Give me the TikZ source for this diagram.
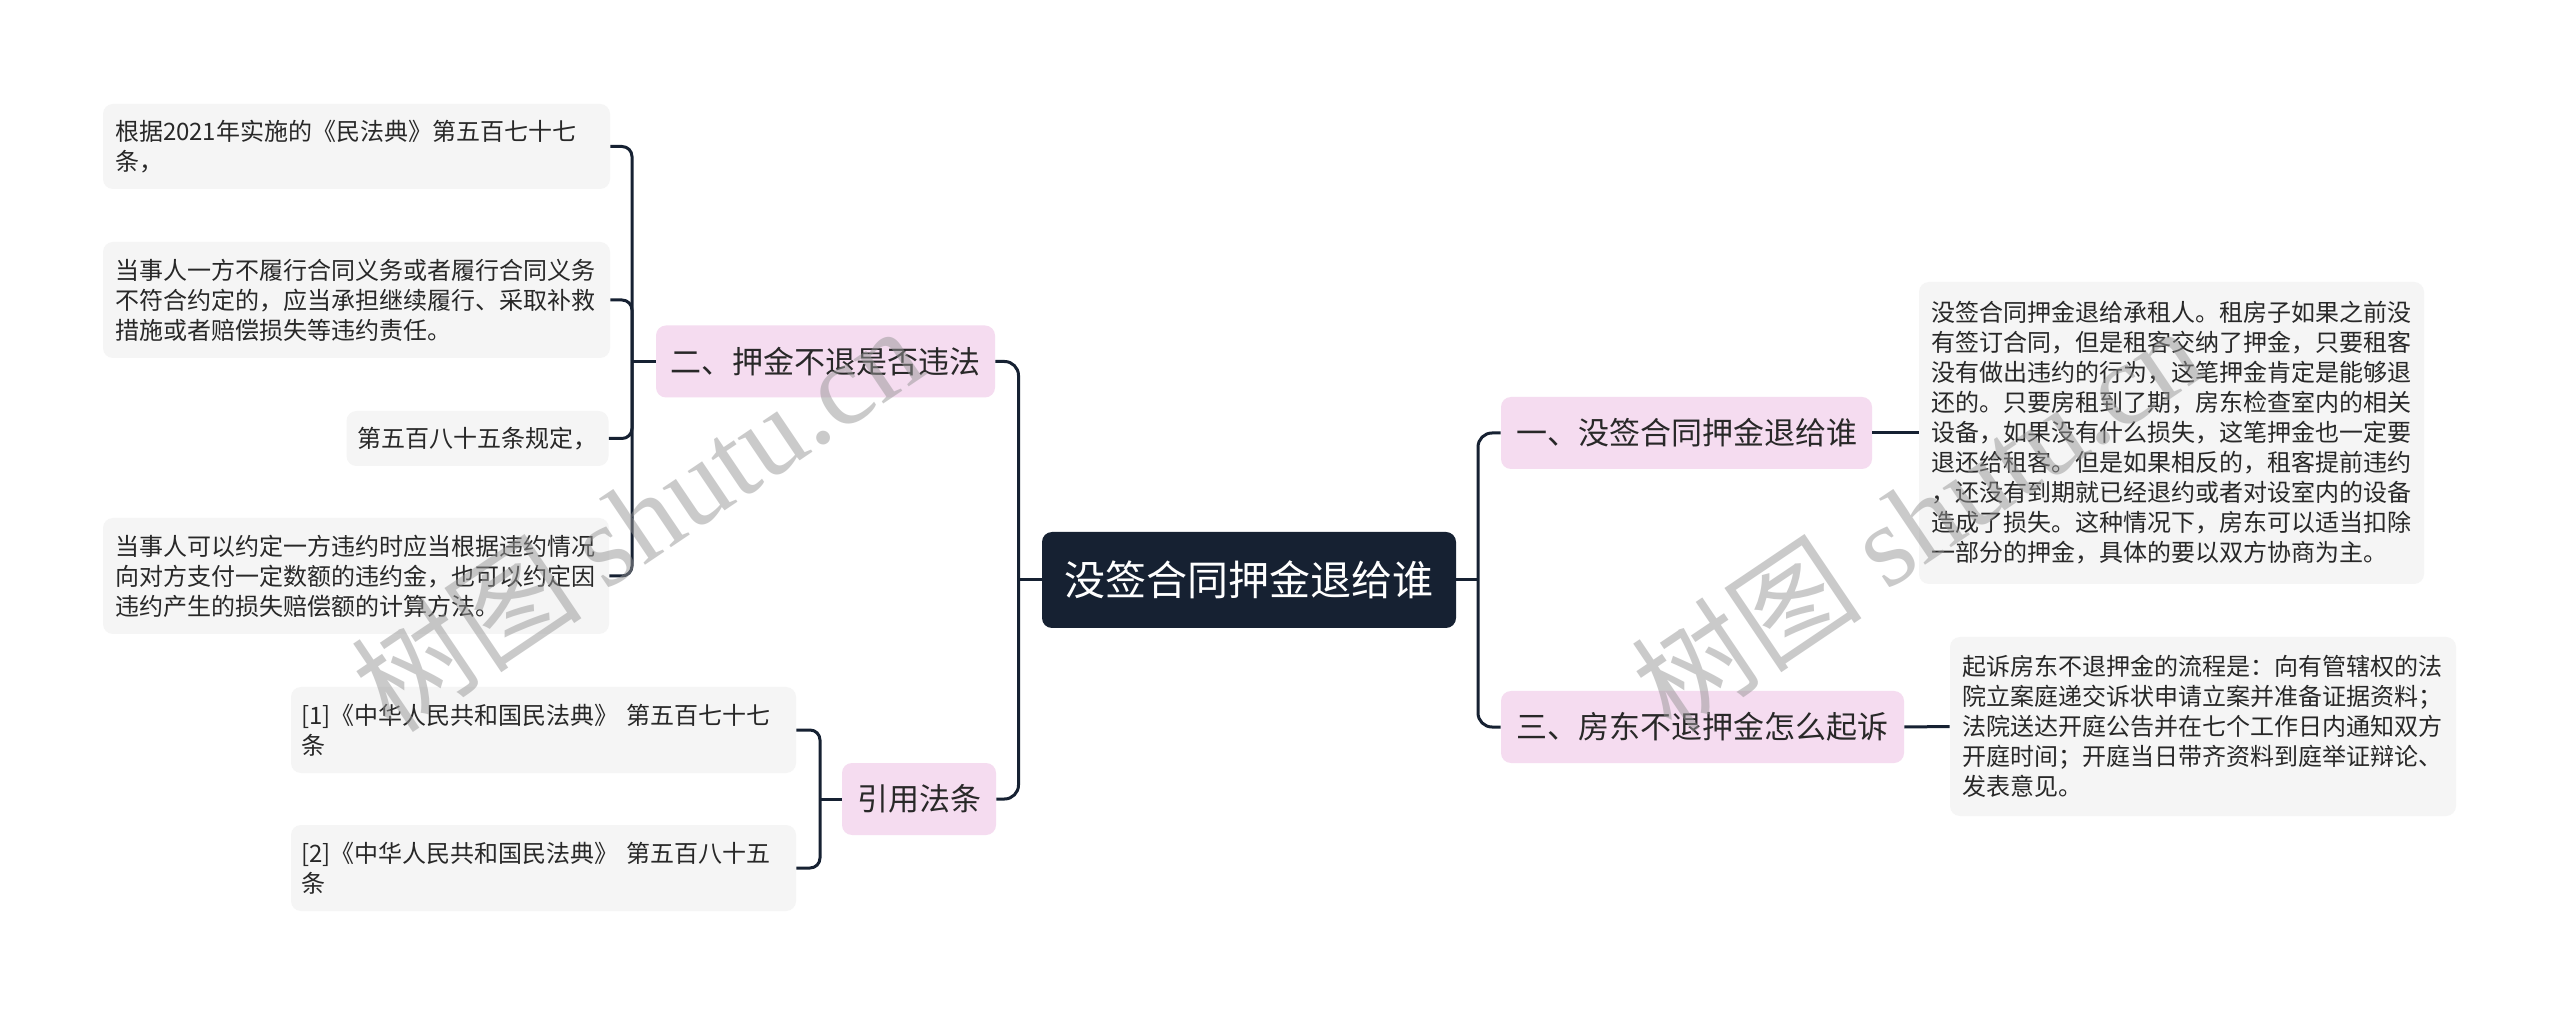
\documentclass[tikz,border=0pt]{standalone}
\usepackage{fontspec}
\setmainfont{Noto Sans CJK SC}
\newfontfamily\wmserif{Liberation Serif}
\definecolor{rootfill}{RGB}{22,33,50}
\definecolor{linec}{RGB}{22,33,50}
\definecolor{pinkfill}{RGB}{245,220,240}
\definecolor{leaffill}{RGB}{245,245,245}
\definecolor{txt}{RGB}{40,40,40}
\definecolor{wm}{RGB}{150,150,150}
\begin{document}
\begin{tikzpicture}[x=0.5pt,y=-0.5pt,
  conn/.style={draw=linec, line width=1.5pt, rounded corners=7pt},
  subconn/.style={draw=linec, line width=1.5pt, rounded corners=5pt},
  rootbox/.style={fill=rootfill, text=white, rounded corners=5pt, font=\fontsize{20.5}{24}\selectfont, minimum width=207pt, minimum height=48pt, inner sep=0pt},
  topic/.style={fill=pinkfill, text=txt, rounded corners=5pt, font=\fontsize{15.5}{18}\selectfont, minimum height=36pt, inner sep=0pt},
  leaf/.style={fill=leaffill, text=txt, rounded corners=5pt, font=\fontsize{12}{15}\selectfont, align=left, inner xsep=6pt, inner ysep=0pt},
  wmark/.style={text=wm, text opacity=0.5, rotate=34, font=\fontsize{58}{62}\selectfont, inner sep=0pt}
]
\useasboundingbox (0,0) rectangle (2560,1015);
\fill[white] (0,0) rectangle (2560,1015);

% central node and topics
\node[rootbox] (root) at (1249,580) {没签合同押金退给谁};
\node[topic, minimum width=169.5pt] (n2) at (825.5,361.5) {二、押金不退是否违法};
\node[topic, minimum width=77pt] (n4) at (919,799) {引用法条};
\node[topic, minimum width=185.5pt] (n1) at (1686.5,433) {一、没签合同押金退给谁};
\node[topic, minimum width=201.5pt] (n3) at (1702.5,727) {三、房东不退押金怎么起诉};

% left leaves
\node[leaf, text width=241.5pt, minimum height=42.5pt] (a1) at (356.5,146.5)
  {根据2021年实施的《民法典》第五百七十七\\条，};
\node[leaf, text width=241.5pt, minimum height=58pt] (a2) at (356.5,300)
  {当事人一方不履行合同义务或者履行合同义务\\不符合约定的，应当承担继续履行、采取补救\\措施或者赔偿损失等违约责任。};
\node[leaf, inner xsep=5.5pt, text width=120pt, minimum height=27.5pt] (a3) at (477.5,438.5)
  {第五百八十五条规定，};
\node[leaf, text width=241pt, minimum height=58pt] (a4) at (356,576)
  {当事人可以约定一方违约时应当根据违约情况\\向对方支付一定数额的违约金，也可以约定因\\违约产生的损失赔偿额的计算方法。};
\node[leaf, inner xsep=5pt, text width=242.5pt, minimum height=43pt] (b1) at (543.5,730)
  {[1]《中华人民共和国民法典》~第五百七十七\\条};
\node[leaf, inner xsep=5pt, text width=242.5pt, minimum height=43pt] (b2) at (543.5,868)
  {[2]《中华人民共和国民法典》~第五百八十五\\条};

% right leaves
\node[leaf, text width=240.5pt, minimum height=151pt] (c1) at (2171.5,433)
  {没签合同押金退给承租人。租房子如果之前没\\有签订合同，但是租客交纳了押金，只要租客\\没有做出违约的行为，这笔押金肯定是能够退\\还的。只要房租到了期，房东检查室内的相关\\设备，如果没有什么损失，这笔押金也一定要\\退还给租客。但是如果相反的，租客提前违约\\，还没有到期就已经退约或者对设室内的设备\\造成了损失。这种情况下，房东可以适当扣除\\一部分的押金，具体的要以双方协商为主。};
\node[leaf, text width=241pt, minimum height=89.5pt] (c2) at (2203,726.5)
  {起诉房东不退押金的流程是：向有管辖权的法\\院立案庭递交诉状申请立案并准备证据资料；\\法院送达开庭公告并在七个工作日内通知双方\\开庭时间；开庭当日带齐资料到庭举证辩论、\\发表意见。};

% trunk points
\coordinate (lt) at (1018.5,580);
\coordinate (rt) at (1478,580);
\coordinate (t2) at (632,361.5);
\coordinate (t4) at (820,799);

% connectors
\draw[conn] (root.west) -- (lt);
\draw[conn] (n2.east) -| (lt) |- (n4.east);
\draw[conn] (root.east) -- (rt);
\draw[conn] (n1.west) -| (rt) |- (n3.west);
\draw[subconn] (n2.west) -- (t2);
\draw[subconn] (a1.east) -| (t2) |- (a4.east);
\draw[subconn] (a2.east) -| (t2);
\draw[subconn] (a3.east) -| (t2);
\draw[subconn] (n4.west) -- (t4);
\draw[subconn] (b1.east) -| (t4) |- (b2.east);
\draw[subconn] (n1.east) -- (c1.west);
\draw[subconn] (n3.east) -- (c2.west);

% watermarks
\node[wmark] (wm1) at (636,518) {树图~{\wmserif shutu.cn}};
\node[wmark] (wm2) at (1916,518) {树图~{\wmserif shutu.cn}};
\end{tikzpicture}
\end{document}
